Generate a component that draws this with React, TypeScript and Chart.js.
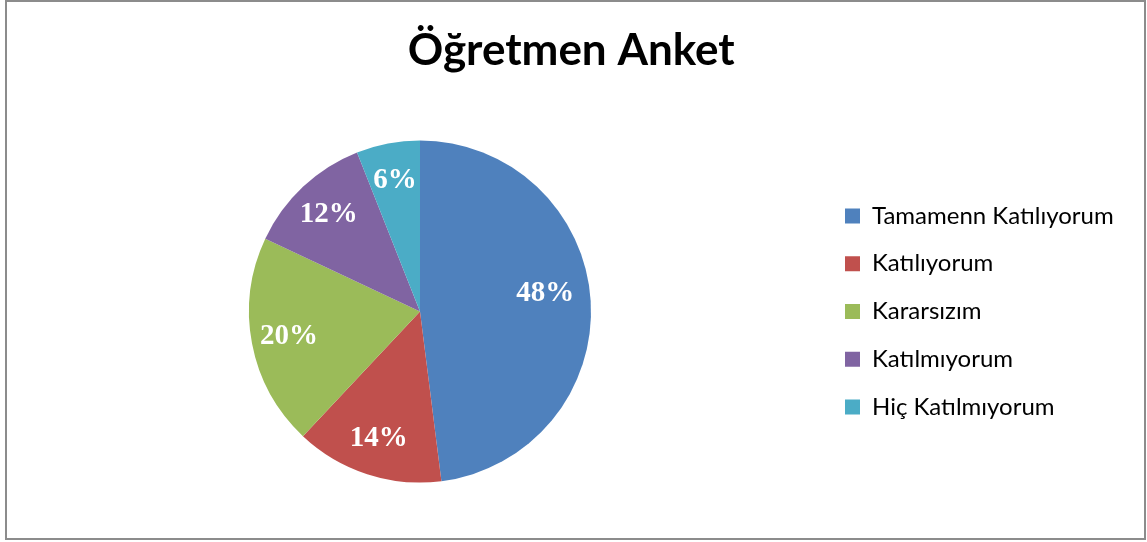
import React, { useEffect, useRef } from "react";
import { Chart, registerables } from "chart.js";

Chart.register(...registerables);

const TITLE = "Öğretmen Anket";
const categories = [
  "Tamamenn Katılıyorum",
  "Katılıyorum",
  "Kararsızım",
  "Katılmıyorum",
  "Hiç Katılmıyorum",
];
const values = [48, 14, 20, 12, 6];
const colors = ["#4F81BD", "#C0504D", "#9BBB59", "#8064A2", "#4BACC6"];

const W = 1147;
const H = 542;
const LEGEND_FONT = 24;
const LEGEND_FAMILY = "Lato, 'Open Sans', sans-serif";
const LEGEND_PAD = 23.8;
const BOX = 15;

const pctLabels = {
  id: "pctLabels",
  afterDatasetsDraw(chart: any) {
    const ctx = chart.ctx;
    const meta = chart.getDatasetMeta(0);
    const data = chart.data.datasets[0].data as number[];
    const total = data.reduce((a: number, b: number) => a + b, 0);
    ctx.save();
    ctx.fillStyle = "#ffffff";
    ctx.font = "bold 29px 'Liberation Serif', 'Times New Roman', serif";
    ctx.textAlign = "center";
    ctx.textBaseline = "middle";
    meta.data.forEach((arc: any, i: number) => {
      const { x, y, startAngle, endAngle, outerRadius } = arc.getProps(
        ["x", "y", "startAngle", "endAngle", "outerRadius"],
        true
      );
      const frac = data[i] / total;
      const mid = (startAngle + endAngle) / 2 - (frac > 0.4 ? 0.08 : 0);
      const r = outerRadius * (frac > 0.4 ? 0.74 : 0.78);
      const pct = Math.round(frac * 100);
      ctx.fillText(pct + "%", x + Math.cos(mid) * r, y + Math.sin(mid) * r);
    });
    ctx.restore();
  },
};

export default function App() {
  const ref = useRef<HTMLCanvasElement | null>(null);
  useEffect(() => {
    if (!ref.current) return;
    const m = document.createElement("canvas").getContext("2d")!;
    m.font = `normal ${LEGEND_FONT}px ${LEGEND_FAMILY}`;
    let maxText = 0;
    categories.forEach((c) => {
      maxText = Math.max(maxText, m.measureText(c).width);
    });
    const itemWidth = BOX + LEGEND_FONT / 2 + maxText;
    const boxLeft = 845;
    const legendLeft = boxLeft - LEGEND_PAD;
    const centerX = 420;
    const padLeft = 2 * centerX - legendLeft;
    const legendWidth = LEGEND_PAD + itemWidth + 10;
    const padRight = Math.max(0, W - legendLeft - legendWidth);

    const chart = new Chart(ref.current, {
      type: "pie",
      data: {
        labels: categories,
        datasets: [
          {
            data: values,
            backgroundColor: colors,
            borderWidth: 0,
          },
        ],
      },
      options: {
        responsive: false,
        animation: false,
        devicePixelRatio: 1,
        layout: {
          padding: { left: padLeft, right: padRight, top: 0, bottom: 59.5 },
        },
        plugins: {
          title: {
            display: true,
            text: TITLE,
            color: "#000000",
            font: { family: "Lato, 'Open Sans', sans-serif", size: 44, weight: "bold", lineHeight: 1.2 },
            padding: { top: 24, bottom: 63.7 },
          },
          legend: {
            display: true,
            position: "right",
            align: "center",
            fullSize: false,
            labels: {
              color: "#000000",
              font: { family: LEGEND_FAMILY, size: LEGEND_FONT },
              boxWidth: BOX,
              boxHeight: BOX,
              padding: LEGEND_PAD,
            },
          },
          tooltip: { enabled: false },
        },
      },
      plugins: [pctLabels],
    });
    return () => chart.destroy();
  }, []);

  return (
    <div style={{ position: "fixed", left: 0, top: 0, width: W, height: H, background: "#fff" }}>
      <canvas ref={ref} width={W} height={H} style={{ position: "absolute", left: 0, top: 0 }} />
      <div
        style={{
          position: "absolute",
          left: 5,
          top: 0,
          width: 1141,
          height: 540,
          border: "2px solid #8c8c8c",
          boxSizing: "border-box",
          pointerEvents: "none",
        }}
      />
    </div>
  );
}
